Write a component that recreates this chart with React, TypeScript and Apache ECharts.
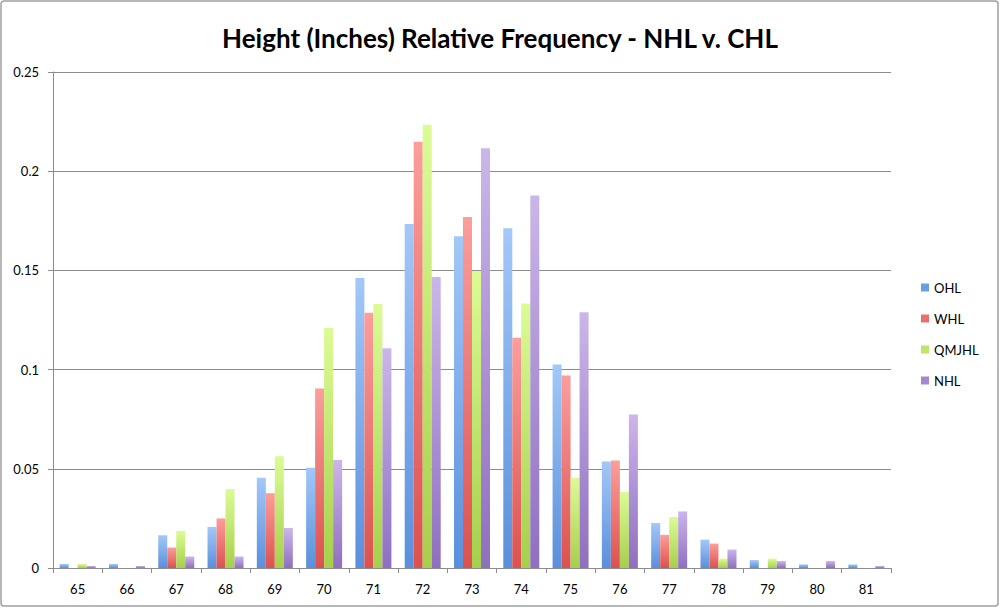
import React, { useEffect, useRef } from "react";
import * as echarts from "echarts";

const categories = ["65", "66", "67", "68", "69", "70", "71", "72", "73", "74", "75", "76", "77", "78", "79", "80", "81"];
const ohl = [0.002, 0.002, 0.0165, 0.0207, 0.0455, 0.0505, 0.1462, 0.1734, 0.1672, 0.1713, 0.1026, 0.0537, 0.0227, 0.0143, 0.004, 0.0018, 0.0018];
const whl = [0, 0, 0.0103, 0.025, 0.0377, 0.0905, 0.1286, 0.2149, 0.1769, 0.116, 0.097, 0.0542, 0.0167, 0.0123, 0, 0, 0];
const qmjhl = [0.002, 0, 0.0187, 0.0398, 0.0563, 0.121, 0.1331, 0.2234, 0.1497, 0.1333, 0.0455, 0.0384, 0.0257, 0.0047, 0.0047, 0, 0];
const nhl = [0.001, 0.001, 0.0058, 0.0058, 0.0202, 0.0544, 0.1108, 0.1467, 0.2116, 0.1877, 0.1289, 0.0774, 0.0285, 0.0093, 0.0035, 0.0035, 0.001];
const seriesNames = ["OHL", "WHL", "QMJHL", "NHL"];
const seriesData = [ohl, whl, qmjhl, nhl];

const FONT = "Lato, 'Open Sans', sans-serif";
const palettes = [
  ["#a3c8f8", "#5a8fdc", "#6a9de6"],
  ["#fb9e9c", "#dc514e", "#e8706d"],
  ["#dcfb96", "#a6cf4c", "#c0e46e"],
  ["#cbb6ea", "#8f6fbf", "#a487cf"],
];

export default function App() {
  const ref = useRef<HTMLDivElement>(null);
  useEffect(() => {
    document.body.style.margin = "0";
    const chart = echarts.init(ref.current!, null, { renderer: "svg" });
    chart.setOption({
      animation: false,
      backgroundColor: "#ffffff",
      textStyle: { fontFamily: FONT },
      title: {
        text: "Height (Inches) Relative Frequency - NHL v. CHL",
        left: "center",
        top: 20,
        textStyle: { fontFamily: FONT, fontSize: 26, fontWeight: "bold", color: "#000" },
      },
      graphic: [
        {
          type: "rect",
          shape: { x: 1, y: 1, width: 997, height: 605, r: 3 },
          style: { fill: "none", stroke: "#a0a0a0", lineWidth: 1.5 },
          silent: true,
        },
      ],
      legend: {
        orient: "vertical",
        left: 916,
        top: 276,
        itemWidth: 8,
        itemHeight: 8,
        itemGap: 18,
        icon: "rect",
        textStyle: { fontFamily: FONT, fontSize: 13, color: "#000" },
        data: seriesNames.map((n, i) => ({ name: n, itemStyle: { color: palettes[i][2] } })),
      },
      grid: { left: 53, right: 109, top: 72, bottom: 40, containLabel: false },
      xAxis: {
        type: "category",
        data: categories,
        boundaryGap: true,
        axisLine: { lineStyle: { color: "#8c8c8c", width: 1 } },
        axisTick: { show: true, length: 5, lineStyle: { color: "#8c8c8c" } },
        axisLabel: { fontFamily: FONT, fontSize: 13, color: "#000", margin: 14 },
      },
      yAxis: {
        type: "value",
        min: 0,
        max: 0.25,
        interval: 0.05,
        axisLine: { show: true, lineStyle: { color: "#8c8c8c", width: 1 } },
        axisTick: { show: true, length: 5, lineStyle: { color: "#8c8c8c" } },
        splitLine: { lineStyle: { color: "#8c8c8c", width: 1 } },
        axisLabel: { fontFamily: FONT, fontSize: 13, color: "#000", margin: 14 },
      },
      series: seriesNames.map((name, i) => ({
        name,
        type: "bar",
        data: seriesData[i],
        barWidth: 9,
        barGap: "0%",
        itemStyle: {
          color: new echarts.graphic.LinearGradient(0, 0, 0, 1, [
            { offset: 0, color: palettes[i][0] },
            { offset: 1, color: palettes[i][1] },
          ]),
        },
      })),
    });
    return () => chart.dispose();
  }, []);
  return <div ref={ref} style={{ width: 1000, height: 608 }} />;
}
